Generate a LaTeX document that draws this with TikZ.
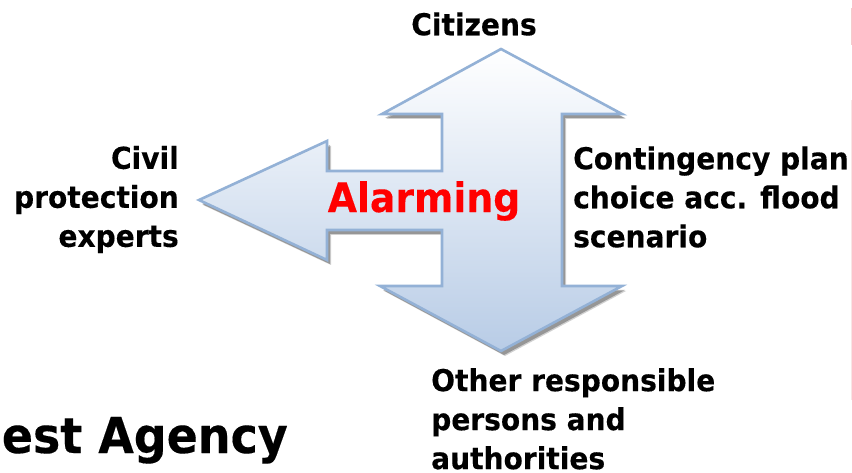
\documentclass[tikz,border=0pt]{standalone}
\usepackage{fontspec}
\setmainfont{DejaVu Sans}
\newfontfamily\lblfont[FakeStretch=0.93,FakeBold=0.25]{DejaVu Sans Bold}
\usetikzlibrary{calc}
\definecolor{arrowedge}{HTML}{93B1D6}
\definecolor{arrowtop}{HTML}{FFFFFF}
\definecolor{arrowbot}{HTML}{B8CCE6}
\definecolor{pinkedge}{HTML}{F4CCCC}
\tikzset{
  lbl/.style={font=\lblfont\fontsize{30.2}{39}\selectfont, inner sep=0pt, text=black},
  bigred/.style={font=\lblfont\fontsize{40.6}{39}\selectfont, inner sep=0pt, text=red},
  agency/.style={font=\lblfont\fontsize{49.4}{48}\selectfont, inner sep=0pt, text=black},
  arrowshape/.style={draw=arrowedge, line width=2.6pt, line join=miter, top color=arrowtop, bottom color=arrowbot},
}
\newcommand{\arrowoutline}{(501,49) -- (622,114) -- (562,114) -- (562,286) -- (622,286) -- (501,351) -- (380,286) -- (442,286) -- (442,230) -- (327,230) -- (327,260) -- (199,200) -- (327,141) -- (327,171) -- (442,171) -- (442,114) -- (382,114) -- cycle}
\begin{document}
\begin{tikzpicture}[x=1pt,y=-1pt]
\useasboundingbox (0,0) rectangle (852,473);
\fill[white] (0,0) rectangle (852,473);
% faint edge of the slide behind
\fill[pinkedge, opacity=.5] (850.5,100) rectangle (852,400);
\fill[pinkedge] (850.5,8) rectangle (852,45);
% shadow, soft
\begin{scope}[shift={(4,5)}]
  \fill[black, opacity=.18] \arrowoutline;
\end{scope}
\begin{scope}[shift={(3,4)}]
  \fill[black, opacity=.28] \arrowoutline;
\end{scope}
% arrows
\path[arrowshape] \arrowoutline;
% labels
\node[lbl, anchor=center] (citizens) at (474,24) {Citizens};
\node[lbl, anchor=east, align=right] (civil) at (179,199.5) {Civil\\protection\\experts};
\node[bigred] (alarming) at (424,201) {Alarming};
\node[lbl, anchor=west, align=left] (plan) at (573,197) {Contingency plan\\choice acc. flood\\scenario};
\node[lbl, anchor=north west, align=left] (other) at (431,368) {Other responsible\\persons and\\authorities};
\node[agency, anchor=base east] (agency) at (288,453) {est Agency};
\end{tikzpicture}
\end{document}
